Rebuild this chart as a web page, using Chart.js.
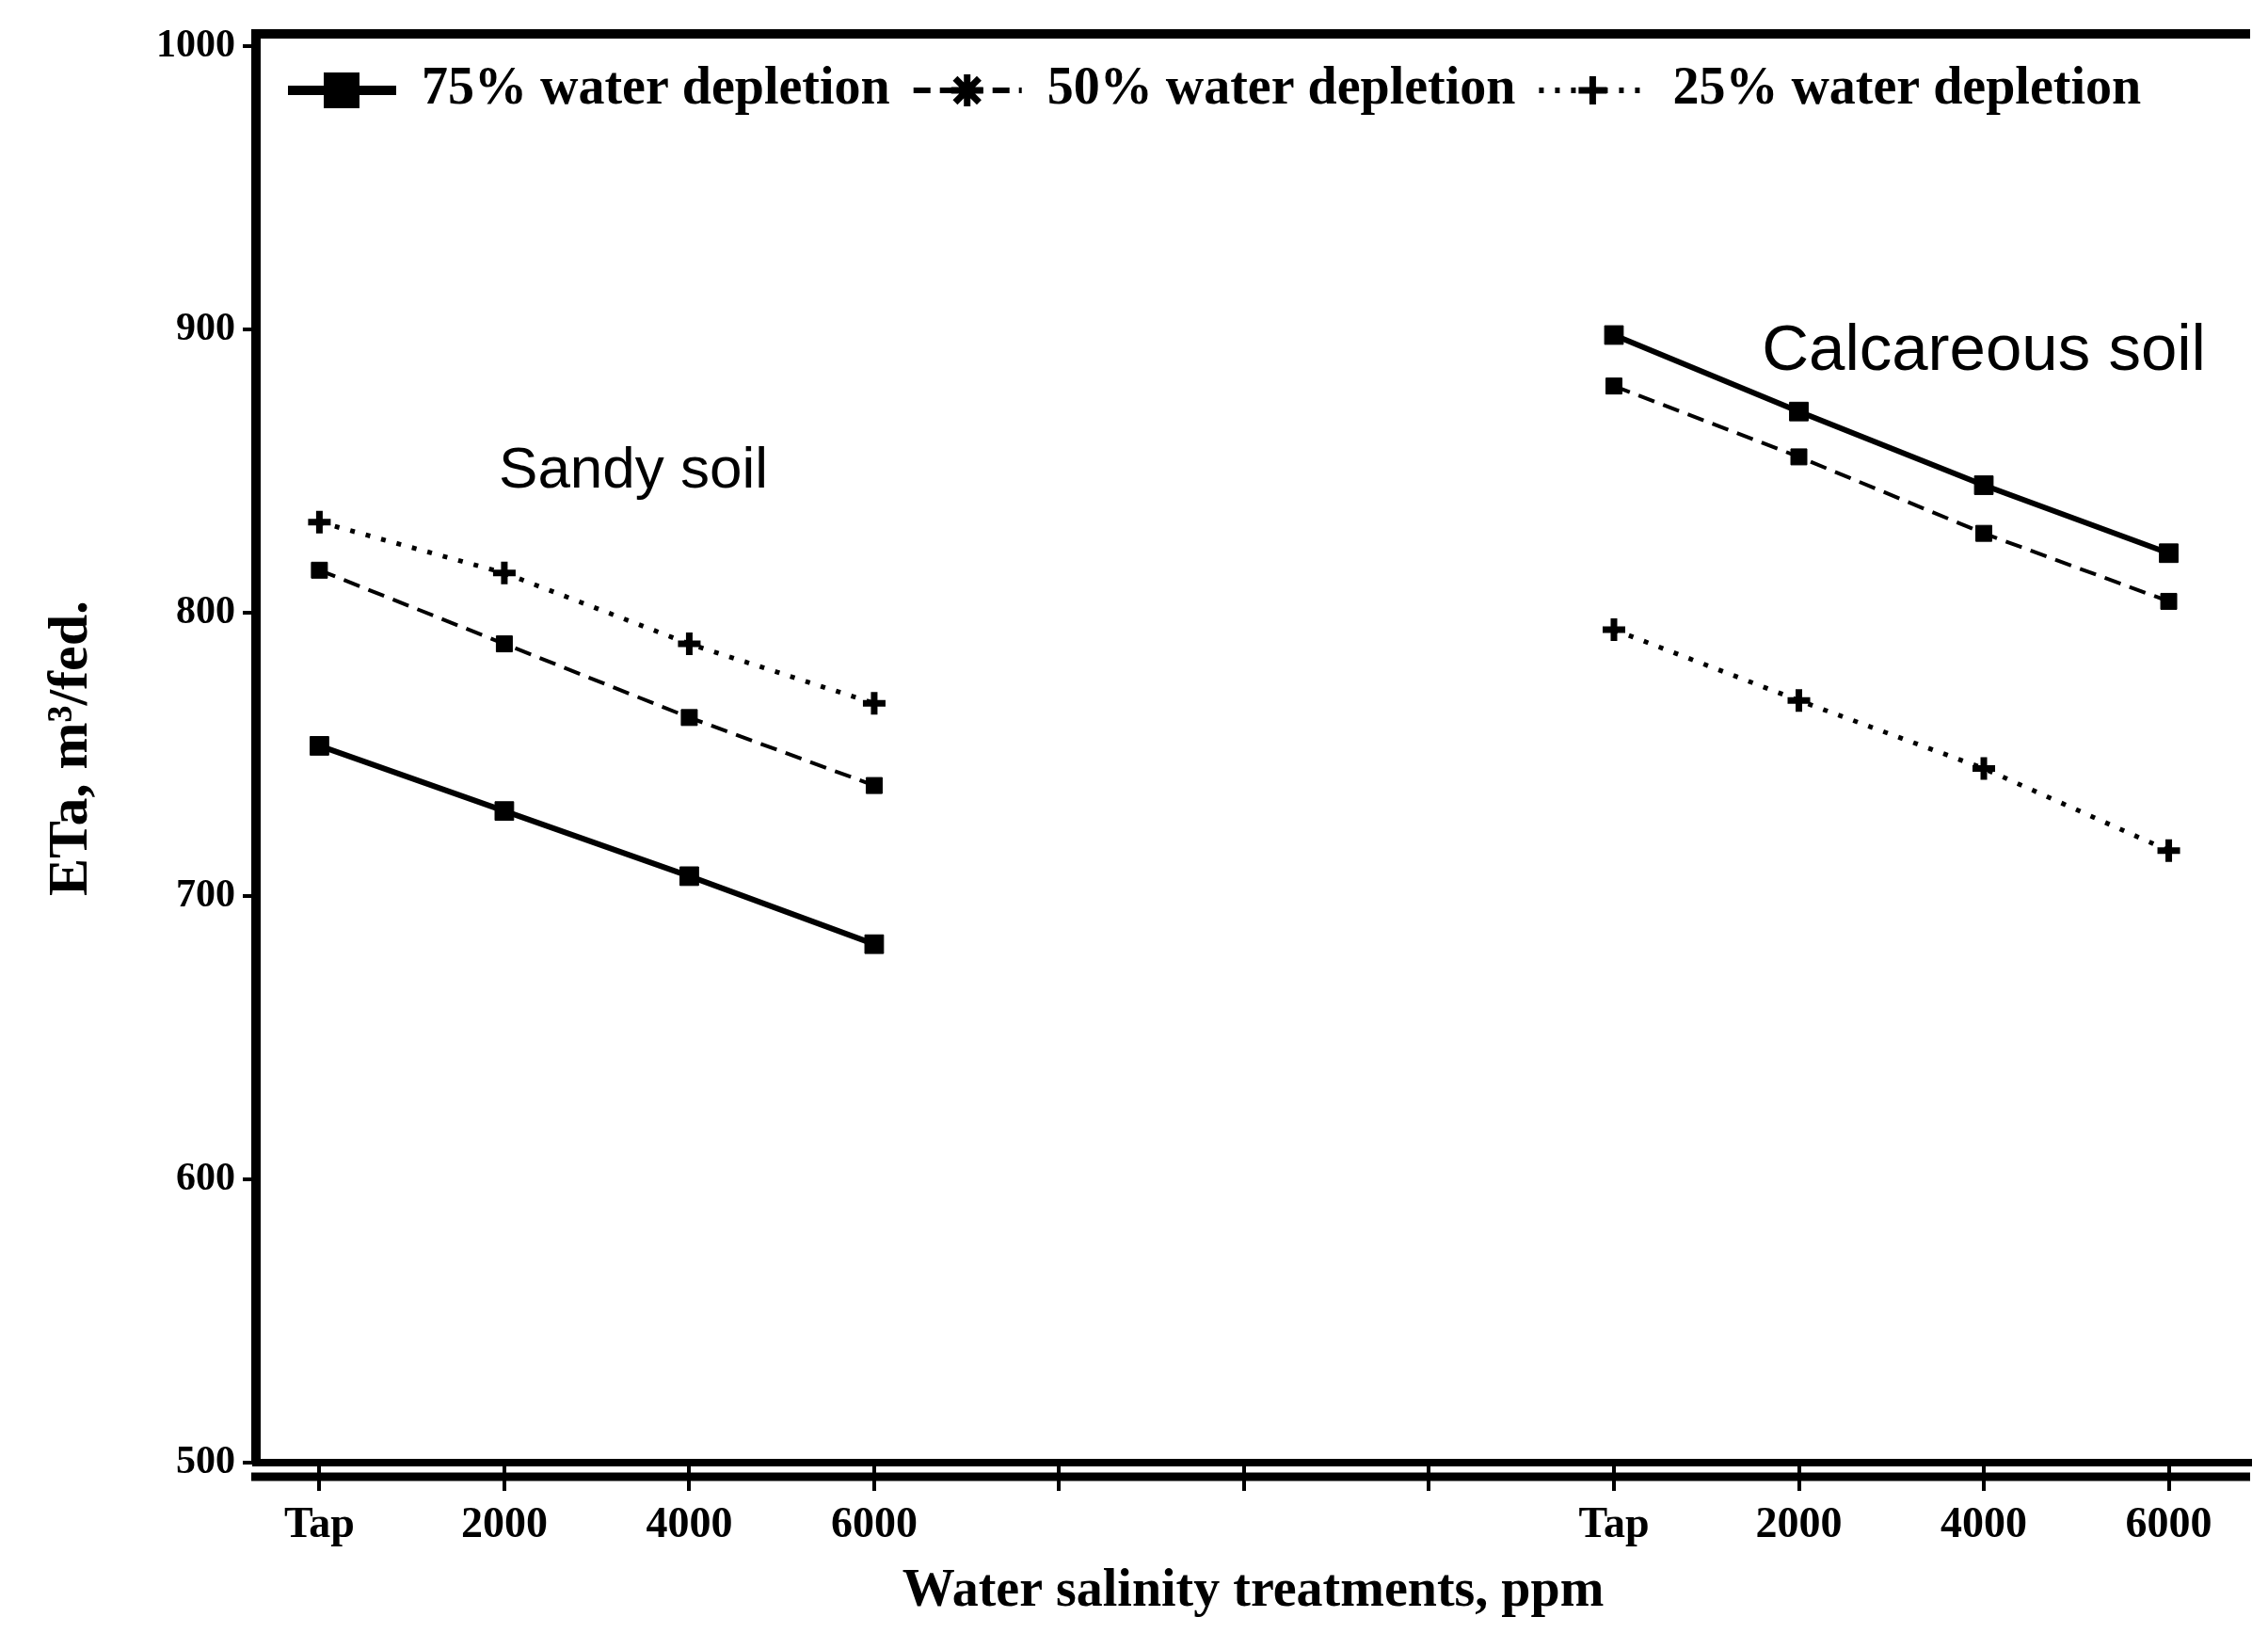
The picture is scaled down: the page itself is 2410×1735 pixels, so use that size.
<!DOCTYPE html>
<html>
<head>
<meta charset="utf-8">
<script src="https://cdn.jsdelivr.net/npm/chart.js@4.4.1/dist/chart.umd.min.js"></script>
<style>
  html, body { margin: 0; padding: 0; background: #fff; }
  #wrap { width: 2410px; height: 1735px; }
</style>
</head>
<body>
<div id="wrap"><canvas id="etaChart" width="2410" height="1735"></canvas></div>
<script>
// x categories (sandy soil block, empty gap, calcareous soil block)
const xLabels = ["Tap", "2000", "4000", "6000", "", "", "", "Tap", "2000", "4000", "6000"];
const yTicks = [500, 600, 700, 800, 900, 1000];
const seriesNames = ["75% water depletion", "50% water depletion", "25% water depletion"];

// ETa, m3/fed. (null = gap between the two soils)
const depletion75 = [753, 730, 707, 683, null, null, null, 898, 871, 845, 821];
const depletion50 = [815, 789, 763, 739, null, null, null, 880, 855, 828, 804];
const depletion25 = [832, 814, 789, 768, null, null, null, 794, 769, 745, 716];

const soilNotes = [
  { text: "Sandy soil", x: 0.97, y: 850, size: 62 },
  { text: "Calcareous soil", x: 7.8, y: 892, size: 69 }
];

const toPoints = (arr) => arr.map((v, i) => ({ x: i, y: v }));

function drawMarker(ctx, style, x, y, r, lw) {
  ctx.save();
  ctx.fillStyle = "#000";
  ctx.strokeStyle = "#000";
  ctx.lineWidth = lw;
  ctx.setLineDash([]);
  if (style === "rect") {
    ctx.fillRect(x - r, y - r, 2 * r, 2 * r);
  } else {
    ctx.beginPath();
    ctx.moveTo(x - r, y); ctx.lineTo(x + r, y);
    ctx.moveTo(x, y - r); ctx.lineTo(x, y + r);
    if (style === "star") {
      const d = r * 0.75;
      ctx.moveTo(x - d, y - d); ctx.lineTo(x + d, y + d);
      ctx.moveTo(x - d, y + d); ctx.lineTo(x + d, y - d);
    }
    ctx.stroke();
  }
  ctx.restore();
}

const framePlugin = {
  id: "frameAndNotes",
  afterDraw(chart) {
    const { ctx, chartArea, scales } = chart;
    ctx.save();
    ctx.strokeStyle = "#000";
    ctx.fillStyle = "#000";
    // top frame line
    ctx.lineWidth = 10;
    ctx.beginPath();
    ctx.moveTo(chartArea.left - 5, chartArea.top);
    ctx.lineTo(chartArea.right, chartArea.top);
    ctx.stroke();
    // second line under the x axis
    ctx.lineWidth = 9;
    ctx.beginPath();
    ctx.moveTo(chartArea.left - 5, chartArea.bottom + 15);
    ctx.lineTo(chartArea.right, chartArea.bottom + 15);
    ctx.stroke();

    // soil labels
    ctx.textAlign = "left";
    ctx.textBaseline = "middle";
    soilNotes.forEach((n) => {
      ctx.font = n.size + 'px "Liberation Sans", Arial, sans-serif';
      ctx.fillText(n.text, scales.x.getPixelForValue(n.x), scales.y.getPixelForValue(n.y));
    });

    // legend inside the top of the frame
    ctx.font = 'bold 56px "Liberation Serif", "Times New Roman", serif';
    let x = 306;
    const y = 96;
    chart.data.datasets.forEach((ds) => {
      ctx.save();
      ctx.lineWidth = ds.legendLineWidth;
      ctx.setLineDash(ds.borderDash || []);
      ctx.beginPath();
      ctx.moveTo(x, y);
      ctx.lineTo(x + 115, y);
      ctx.stroke();
      ctx.restore();
      drawMarker(ctx, ds.legendMarker, x + 57, y, ds.legendMarkerSize, 7);
      x += 115 + 27;
      ctx.fillText(ds.label, x, y);
      x += ctx.measureText(ds.label).width + 25;
    });
    ctx.restore();
  }
};

const ctx = document.getElementById("etaChart");

new Chart(ctx, {
  type: "line",
  data: {
    datasets: [
      {
        label: seriesNames[0],
        data: toPoints(depletion75),
        borderColor: "#000",
        backgroundColor: "#000",
        borderWidth: 6,
        pointStyle: "rect",
        pointRadius: 14,
        pointBorderWidth: 1,
        legendMarker: "rect",
        legendMarkerSize: 19,
        legendLineWidth: 10
      },
      {
        label: seriesNames[1],
        data: toPoints(depletion50),
        borderColor: "#000",
        backgroundColor: "#000",
        borderWidth: 4,
        borderDash: [18, 10],
        pointStyle: "rect",
        pointRadius: 12,
        pointBorderWidth: 1,
        legendMarker: "star",
        legendMarkerSize: 17,
        legendLineWidth: 6
      },
      {
        label: seriesNames[2],
        data: toPoints(depletion25),
        borderColor: "#000",
        backgroundColor: "#000",
        borderWidth: 5,
        borderDash: [5, 12],
        pointStyle: "cross",
        pointRadius: 12,
        pointBorderWidth: 7,
        legendMarker: "cross",
        legendMarkerSize: 15,
        legendLineWidth: 6
      }
    ]
  },
  options: {
    responsive: false,
    animation: false,
    devicePixelRatio: 1,
    spanGaps: false,
    layout: { padding: { top: 36, left: 0, right: 0, bottom: 0 } },
    plugins: {
      legend: { display: false },
      tooltip: { enabled: false }
    },
    scales: {
      x: {
        type: "linear",
        min: -0.343,
        max: 10.44,
        afterBuildTicks: (scale) => {
          scale.ticks = xLabels.map((_, i) => ({ value: i }));
        },
        afterFit: (scale) => { scale.height = 181; },
        border: { display: true, color: "#000", width: 8 },
        grid: { drawOnChartArea: false, drawTicks: true, tickLength: 30, color: "#000", lineWidth: 4 },
        ticks: {
          autoSkip: false,
          maxRotation: 0,
          padding: 10,
          color: "#000",
          font: { family: '"Liberation Serif", serif', weight: "bold", size: 46 },
          callback: (v) => xLabels[v] ?? ""
        },
        title: {
          display: true,
          text: "Water salinity treatments, ppm",
          color: "#000",
          font: { family: '"Liberation Serif", serif', weight: "bold", size: 56 },
          padding: { top: 0, bottom: 10 }
        }
      },
      y: {
        type: "linear",
        min: 500,
        max: 1004.3,
        afterBuildTicks: (scale) => {
          scale.ticks = yTicks.map((v) => ({ value: v }));
        },
        afterFit: (scale) => { scale.width = 272; },
        border: { display: true, color: "#000", width: 10 },
        grid: { drawOnChartArea: false, drawTicks: true, tickLength: 14, color: "#000", lineWidth: 4 },
        ticks: {
          padding: 8,
          color: "#000",
          font: { family: '"Liberation Serif", serif', weight: "bold", size: 42 },
          callback: (v) => String(v)
        },
        title: {
          display: true,
          text: "ETa, m³/fed.",
          color: "#000",
          font: { family: '"Liberation Serif", serif', weight: "bold", size: 60 },
          padding: { top: 40, bottom: 0 }
        }
      }
    }
  },
  plugins: [framePlugin]
});
</script>
</body>
</html>
